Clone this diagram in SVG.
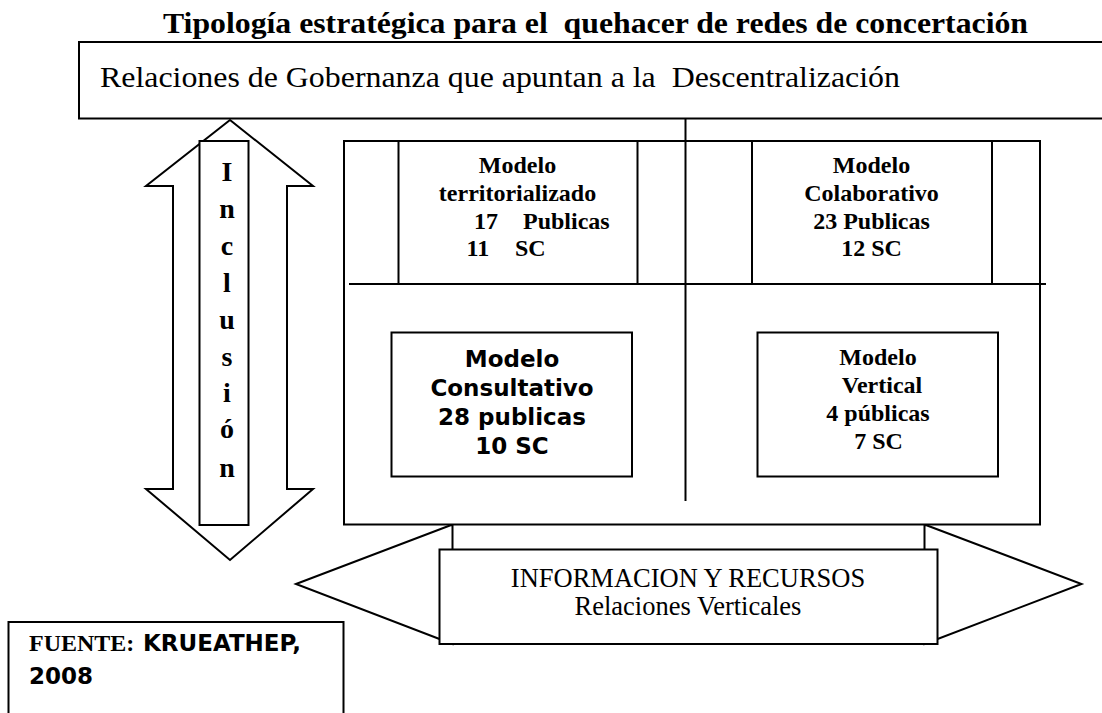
<svg xmlns="http://www.w3.org/2000/svg" width="1102" height="713" viewBox="0 0 1102 713">
<style>
  .box { fill: #ffffff; stroke: #000000; stroke-width: 2; }
  .ln { fill: none; stroke: #000000; stroke-width: 2; }
  .serif { font-family: "Liberation Serif", "Times New Roman", serif; fill: #000000; }
  .bserif { font-family: "Liberation Serif", "Times New Roman", serif; font-weight: bold; fill: #000000; }
  .bsans { font-family: "DejaVu Sans", Verdana, sans-serif; font-weight: bold; fill: #000000; }
  .m24 { font-size: 24px; }
  .mid { text-anchor: middle; }
</style>
<rect x="0" y="0" width="1102" height="713" fill="#ffffff"/>

<g id="title">
  <text class="bserif" x="163" y="33" font-size="30" textLength="865" lengthAdjust="spacingAndGlyphs" xml:space="preserve">Tipología estratégica para el  quehacer de redes de concertación</text>
</g>

<g id="gobernanza">
  <rect class="box" x="79" y="42" width="1040" height="76.5"/>
  <text class="serif" x="100" y="87" font-size="30" textLength="800" lengthAdjust="spacingAndGlyphs" xml:space="preserve">Relaciones de Gobernanza que apuntan a la  Descentralización</text>
</g>

<g id="inclusion">
  <polygon class="box" points="230,120 313,186 287,186 287,489 313,489 230,560 146,489 173,489 173,186 146,186"/>
  <rect class="box" x="199.5" y="141" width="49" height="384"/>
  <g class="bserif mid" font-size="28">
    <text x="227" y="181">I</text>
    <text x="227" y="218">n</text>
    <text x="227" y="255">c</text>
    <text x="227" y="292">l</text>
    <text x="227" y="329">u</text>
    <text x="227" y="366">s</text>
    <text x="227" y="402">i</text>
    <text x="227" y="438">ó</text>
    <text x="227" y="477">n</text>
  </g>
</g>

<g id="informacion">
  <polygon class="box" points="296,584 452.5,524.5 452.5,560 924.5,560 924.5,524.5 1081.5,584 924.5,644 924.5,600 452.5,600 452.5,644"/>
  <rect class="box" x="439.5" y="549.5" width="498" height="94.5"/>
  <text class="serif mid" x="688" y="587" font-size="26.5">INFORMACION Y RECURSOS</text>
  <text class="serif mid" x="688" y="615" font-size="26.5">Relaciones Verticales</text>
</g>

<g id="marco">
  <rect class="box" x="344" y="141" width="696" height="383.5"/>
</g>

<g id="connectors">
  <line class="ln" x1="685.5" y1="118.5" x2="685.5" y2="501"/>
  <line class="ln" x1="349" y1="284" x2="1046" y2="284"/>
</g>

<g id="territorializado">
  <rect class="box" x="398.5" y="141" width="239" height="143"/>
  <text class="bserif m24 mid" x="517.5" y="173">Modelo</text>
  <text class="bserif m24 mid" x="517.5" y="201">territorializado</text>
  <text class="bserif m24" x="474" y="229">17</text>
  <text class="bserif m24" x="523" y="229">Publicas</text>
  <text class="bserif m24" x="466.5" y="256">11</text>
  <text class="bserif m24" x="515" y="256">SC</text>
</g>

<g id="colaborativo">
  <rect class="box" x="752" y="141" width="240" height="143"/>
  <text class="bserif m24 mid" x="871.5" y="173">Modelo</text>
  <text class="bserif m24 mid" x="871.5" y="201">Colaborativo</text>
  <text class="bserif m24 mid" x="871.5" y="229">23 Publicas</text>
  <text class="bserif m24 mid" x="871.5" y="256">12 SC</text>
</g>

<g id="consultativo">
  <rect class="box" x="391.5" y="332.5" width="240.5" height="144"/>
  <text class="bsans mid" x="512" y="367" font-size="23">Modelo</text>
  <text class="bsans mid" x="512" y="396" font-size="23">Consultativo</text>
  <text class="bsans mid" x="512" y="425" font-size="23">28 publicas</text>
  <text class="bsans mid" x="512" y="454" font-size="23">10 SC</text>
</g>

<g id="vertical">
  <rect class="box" x="757.5" y="332.5" width="240.5" height="144"/>
  <text class="bserif m24 mid" x="878" y="365">Modelo</text>
  <text class="bserif m24 mid" x="882" y="393">Vertical</text>
  <text class="bserif m24 mid" x="878" y="421">4 públicas</text>
  <text class="bserif m24 mid" x="878.5" y="449">7 SC</text>
</g>

<g id="fuente">
  <rect class="box" x="8.5" y="622" width="335" height="110"/>
  <text x="29" y="651" font-size="23"><tspan class="bserif" font-size="24">FUENTE:</tspan><tspan class="bsans" x="143">KRUEATHEP,</tspan></text>
  <text class="bsans" x="29" y="684" font-size="23">2008</text>
</g>
</svg>
